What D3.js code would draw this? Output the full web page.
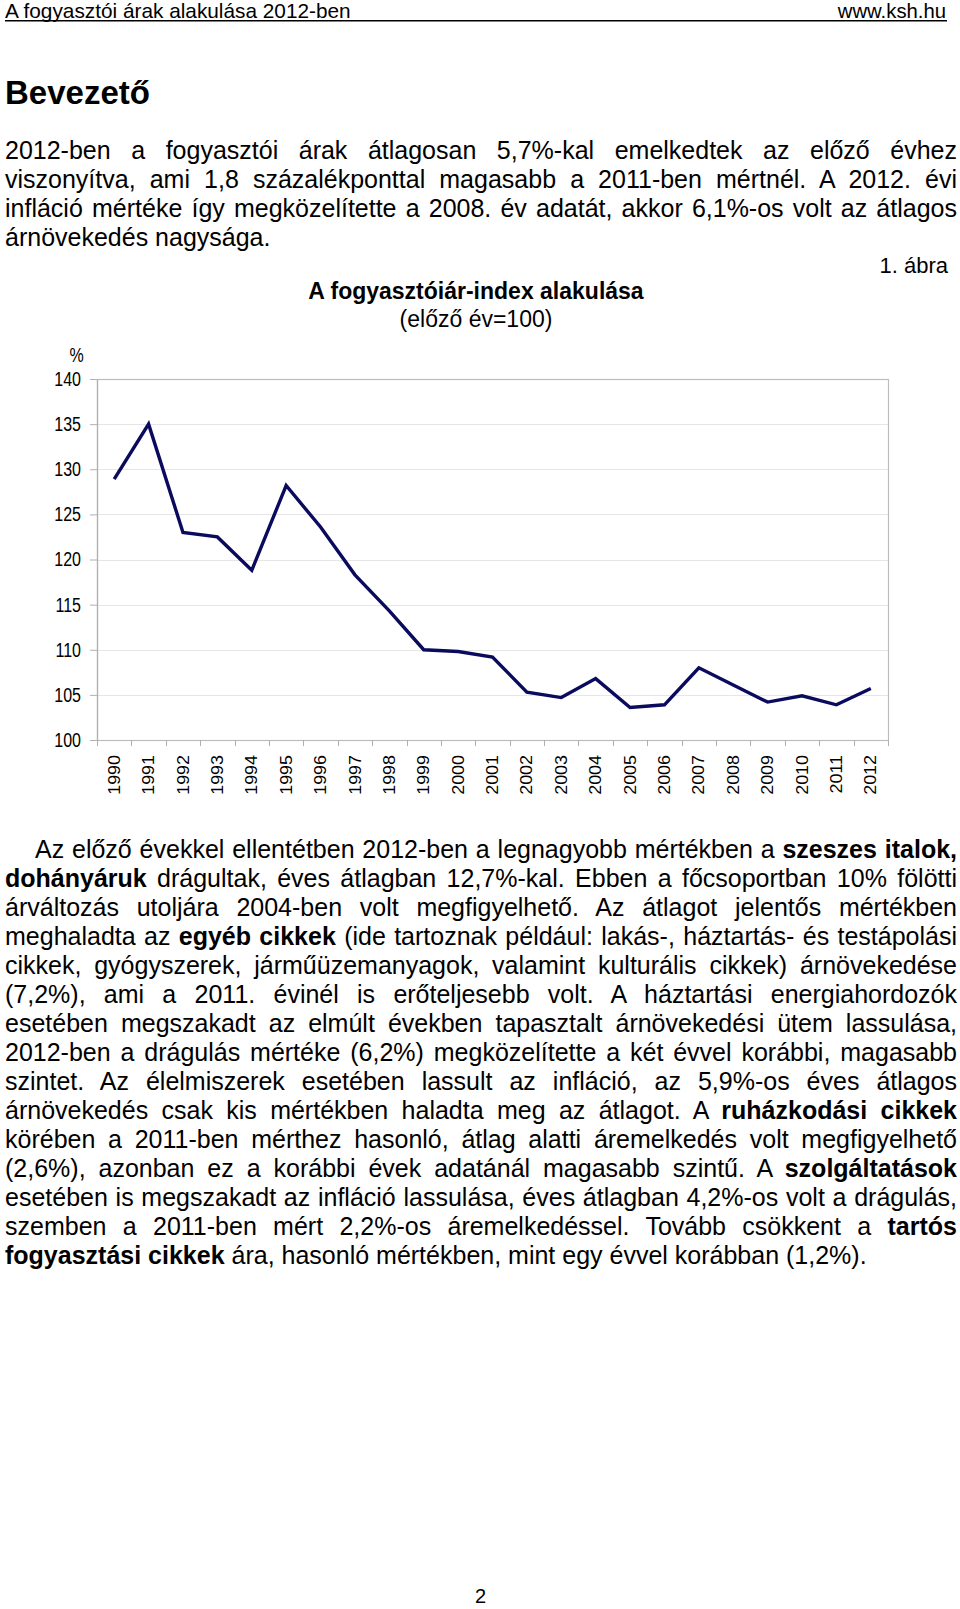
<!DOCTYPE html>
<html lang="hu">
<head>
<meta charset="utf-8">
<script src="https://cdn.jsdelivr.net/npm/d3@7"></script>
<style>
  html, body { margin:0; padding:0; background:#fff; }
  body { width:960px; height:1609px; position:relative; overflow:hidden;
         font-family:"Liberation Sans", Arial, sans-serif; color:#000; }
  #chart { position:absolute; left:0; top:0; }
  .para { position:absolute; left:5px; width:952px; }
  .line { height:29px; line-height:29px; font-size:25px; white-space:nowrap;
          text-align:justify; text-align-last:justify; overflow:visible; }
  .line.last { text-align-last:left; }
  .line.indent { padding-left:30px; width:922px; }
  b { font-weight:bold; }
</style>
</head>
<body>
<svg id="chart" width="960" height="1609"></svg>

<div class="para" id="p1" style="top:136px">
  <div class="line"><span>2012-ben a fogyasztói árak átlagosan 5,7%-kal emelkedtek az előző évhez</span></div>
  <div class="line"><span>viszonyítva, ami 1,8 százalékponttal magasabb a 2011-ben mértnél. A 2012. évi</span></div>
  <div class="line"><span>infláció mértéke így megközelítette a 2008. év adatát, akkor 6,1%-os volt az átlagos</span></div>
  <div class="line last"><span>árnövekedés nagysága.</span></div>
</div>

<div class="para" id="p2" style="top:835px">
  <div class="line indent"><span>Az előző évekkel ellentétben 2012-ben a legnagyobb mértékben a <b>szeszes italok,</b></span></div>
  <div class="line"><span><b>dohányáruk</b> drágultak, éves átlagban 12,7%-kal. Ebben a főcsoportban 10% fölötti</span></div>
  <div class="line"><span>árváltozás utoljára 2004-ben volt megfigyelhető. Az átlagot jelentős mértékben</span></div>
  <div class="line"><span>meghaladta az <b>egyéb cikkek</b> (ide tartoznak például: lakás-, háztartás- és testápolási</span></div>
  <div class="line"><span>cikkek, gyógyszerek, járműüzemanyagok, valamint kulturális cikkek) árnövekedése</span></div>
  <div class="line"><span>(7,2%), ami a 2011. évinél is erőteljesebb volt. A háztartási energiahordozók</span></div>
  <div class="line"><span>esetében megszakadt az elmúlt években tapasztalt árnövekedési ütem lassulása,</span></div>
  <div class="line"><span>2012-ben a drágulás mértéke (6,2%) megközelítette a két évvel korábbi, magasabb</span></div>
  <div class="line"><span>szintet. Az élelmiszerek esetében lassult az infláció, az 5,9%-os éves átlagos</span></div>
  <div class="line"><span>árnövekedés csak kis mértékben haladta meg az átlagot. A <b>ruházkodási cikkek</b></span></div>
  <div class="line"><span>körében a 2011-ben mérthez hasonló, átlag alatti áremelkedés volt megfigyelhető</span></div>
  <div class="line"><span>(2,6%), azonban ez a korábbi évek adatánál magasabb szintű. A <b>szolgáltatások</b></span></div>
  <div class="line"><span>esetében is megszakadt az infláció lassulása, éves átlagban 4,2%-os volt a drágulás,</span></div>
  <div class="line"><span>szemben a 2011-ben mért 2,2%-os áremelkedéssel. Tovább csökkent a <b>tartós</b></span></div>
  <div class="line last"><span><b>fogyasztási cikkek</b> ára, hasonló mértékben, mint egy évvel korábban (1,2%).</span></div>
</div>

<script>
// ---- data ----
const years = ["1990","1991","1992","1993","1994","1995","1996","1997","1998","1999","2000",
               "2001","2002","2003","2004","2005","2006","2007","2008","2009","2010","2011","2012"];
const cpi = [128.9,135.0,123.0,122.5,118.8,128.2,123.6,118.3,114.3,110.0,109.8,
             109.2,105.3,104.7,106.8,103.6,103.9,108.0,106.1,104.2,104.9,103.9,105.7];
const yTicks = [100,105,110,115,120,125,130,135,140];

const FONT = '"Liberation Sans", Arial, sans-serif';
const svg = d3.select('#chart');

// ---- page header ----
svg.append('text').attr('x',5).attr('y',17.5).attr('font-size',20.8).attr('font-family',FONT)
  .text('A fogyasztói árak alakulása 2012-ben');
svg.append('text').attr('x',946).attr('y',17.5).attr('font-size',20.3).attr('font-family',FONT)
  .attr('text-anchor','end').text('www.ksh.hu');
svg.append('line').attr('x1',5).attr('x2',947).attr('y1',20.75).attr('y2',20.75)
  .attr('stroke','#000').attr('stroke-width',1.5);

svg.append('text').attr('x',5).attr('y',104).attr('font-size',33).attr('font-weight','bold')
  .attr('font-family',FONT).text('Bevezető');

// ---- figure labels ----
svg.append('text').attr('x',948).attr('y',273).attr('font-size',22).attr('font-family',FONT)
  .attr('text-anchor','end').text('1. ábra');
svg.append('text').attr('x',476).attr('y',298.5).attr('font-size',23).attr('font-weight','bold')
  .attr('font-family',FONT).attr('text-anchor','middle').text('A fogyasztóiár-index alakulása');
svg.append('text').attr('x',476).attr('y',326.5).attr('font-size',23)
  .attr('font-family',FONT).attr('text-anchor','middle').text('(előző év=100)');

// ---- chart ----
const x = d3.scaleBand().domain(years).range([97, 888]);
const y = d3.scaleLinear().domain([100, 140]).range([740, 379]);

// gridlines
svg.append('g').selectAll('line')
  .data(yTicks.filter(t => t > 100 && t < 140))
  .join('line')
  .attr('x1', x.range()[0]).attr('x2', x.range()[1])
  .attr('y1', d => Math.round(y(d)) + 0.5).attr('y2', d => Math.round(y(d)) + 0.5)
  .attr('stroke', '#e6e6e6').attr('stroke-width', 1);

// frame
svg.append('rect')
  .attr('x', x.range()[0] + 0.5).attr('y', y(140) + 0.5)
  .attr('width', x.range()[1] - x.range()[0]).attr('height', y(100) - y(140))
  .attr('fill', 'none').attr('stroke', '#bdbdbd').attr('stroke-width', 1.2);

// y axis
const gy = svg.append('g').attr('transform', `translate(${x.range()[0]},0)`)
  .call(d3.axisLeft(y).tickValues(yTicks).tickSize(7).tickPadding(9).tickSizeOuter(0));
gy.select('.domain').attr('stroke', '#b0b0b0').attr('stroke-width', 1.2);
gy.selectAll('.tick line').attr('stroke', '#b0b0b0');
gy.selectAll('.tick text').attr('font-size', 16).attr('font-family', FONT).attr('fill', '#000')
  .attr('transform', 'scale(1,1.25)');

svg.append('text').attr('font-size', 16).attr('font-family', FONT).attr('text-anchor', 'middle')
  .attr('transform', 'translate(76.5,361.5) scale(1,1.25)').text('%');

// x axis: boundary ticks
const bounds = years.map(d => x(d)).concat([x.range()[1]]);
svg.append('g').selectAll('line').data(bounds).join('line')
  .attr('x1', d => Math.round(d) + 0.5).attr('x2', d => Math.round(d) + 0.5)
  .attr('y1', y(100)).attr('y2', y(100) + 6)
  .attr('stroke', '#b0b0b0').attr('stroke-width', 1);

// x labels
const gx = svg.append('g').attr('transform', `translate(0,${y(100)})`)
  .call(d3.axisBottom(x).tickSize(0).tickPadding(0));
gx.select('.domain').remove();
gx.selectAll('.tick text')
  .attr('font-size', 16).attr('font-family', FONT).attr('fill', '#000')
  .attr('text-anchor', 'end').attr('x', 0).attr('y', 0).attr('dy', '0.35em')
  .attr('transform', 'translate(0,15) rotate(-90) scale(1.12,1)');

// series line
const line = d3.line()
  .x((d, i) => x(years[i]) + x.bandwidth() / 2)
  .y(d => y(d));
svg.append('path').datum(cpi)
  .attr('d', line)
  .attr('fill', 'none').attr('stroke', '#0b0b5e').attr('stroke-width', 3.4)
  .attr('stroke-linejoin', 'miter');

// page number
svg.append('text').attr('x', 480.5).attr('y', 1603).attr('font-size', 20).attr('font-family', FONT)
  .attr('text-anchor', 'middle').text('2');

// ---- fit justified lines that overflow ----
document.querySelectorAll('.line').forEach(div => {
  const span = div.querySelector('span');
  const avail = div.clientWidth - (div.classList.contains('indent') ? 30 : 0);
  const w = span.getBoundingClientRect().width;
  if (w > avail + 0.5) {
    const n = span.textContent.length;
    span.style.letterSpacing = (-(w - avail) / n) + 'px';
  }
});
</script>
</body>
</html>
